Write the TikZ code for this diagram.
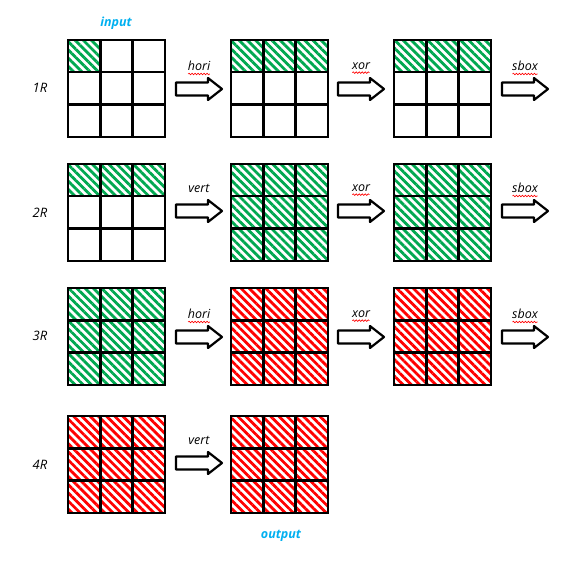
\documentclass[tikz,border=0pt]{standalone}
\usepackage{fontspec}
\setmainfont{Open Sans}
\usetikzlibrary{patterns.meta,decorations.pathmorphing,calc}
\definecolor{hgreen}{RGB}{0,168,80}
\definecolor{hred}{RGB}{255,0,0}
\definecolor{hblue}{RGB}{0,176,240}
\tikzset{
  cell/.style={draw=black,line width=2.4pt,minimum size=32.3pt,inner sep=0pt,outer sep=0pt},
  E/.style={},
  G/.style={pattern={Lines[angle=-45,distance=5.8pt,line width=2.8pt]},pattern color=hgreen},
  R/.style={pattern={Lines[angle=-45,distance=5.8pt,line width=2.8pt]},pattern color=hred},
  blockarrow/.style={draw=black,line width=2.2pt,line join=round,fill=white},
  oplabel/.style={font=\itshape\fontsize{12.5}{15}\selectfont,inner sep=1pt},
  rowlabel/.style={font=\itshape\fontsize{13}{16}\selectfont},
  iolabel/.style={font=\itshape\bfseries\fontsize{12.5}{15}\selectfont,text=hblue},
  squig/.style={draw=hred,line width=0.6pt,decorate,decoration={snake,amplitude=0.8pt,segment length=3pt}}
}
\newcommand{\mygrid}[4]{%
  \foreach \s [count=\k from 0] in {#4} {
    \pgfmathtruncatemacro\rr{div(\k,3)}
    \pgfmathtruncatemacro\cc{mod(\k,3)}
    \node[cell,\s] (#1-\rr-\cc) at ({#2+16.15+32.3*\cc},{#3+16.15+32.3*\rr}) {};
  }}
% name, x centre, y centre, label
\newcommand{\myarrow}[4]{%
  \coordinate (#1) at (#2,#3);
  \draw[blockarrow] ($(#1)+(-23,-6.5)$) -- ($(#1)+(9,-6.5)$) -- ($(#1)+(9,-11)$)
     -- ($(#1)+(23,0)$) -- ($(#1)+(9,11)$) -- ($(#1)+(9,6.5)$) -- ($(#1)+(-23,6.5)$) -- cycle;
  \node[oplabel] (#1-l) at ($(#1)+(0,-23)$) {#4};
}
\newcommand{\mysquig}[1]{%
  \draw[squig] ($(#1-l.south west)+(1.5,2)$) -- ($(#1-l.south east)+(-1.5,2)$);
}
\begin{document}
\begin{tikzpicture}[x=1pt,y=-1pt]
\useasboundingbox (0,0) rectangle (570,564);
% row 1
\mygrid{g11}{68}{40}{G,E,E,E,E,E,E,E,E}
\mygrid{g12}{231}{40}{G,G,G,E,E,E,E,E,E}
\mygrid{g13}{394}{40}{G,G,G,E,E,E,E,E,E}
% row 2
\mygrid{g21}{68}{164}{G,G,G,E,E,E,E,E,E}
\mygrid{g22}{231}{164}{G,G,G,G,G,G,G,G,G}
\mygrid{g23}{394}{164}{G,G,G,G,G,G,G,G,G}
% row 3
\mygrid{g31}{68}{288}{G,G,G,G,G,G,G,G,G}
\mygrid{g32}{231}{288}{R,R,R,R,R,R,R,R,R}
\mygrid{g33}{394}{288}{R,R,R,R,R,R,R,R,R}
% row 4
\mygrid{g41}{68}{416}{R,R,R,R,R,R,R,R,R}
\mygrid{g42}{231}{416}{R,R,R,R,R,R,R,R,R}
% arrows
\myarrow{a11}{199}{89}{hori}\mysquig{a11}
\myarrow{a12}{361}{89}{xor}\mysquig{a12}
\myarrow{a13}{525}{89}{sbox}\mysquig{a13}
\myarrow{a21}{199}{211}{vert}
\myarrow{a22}{361}{211}{xor}\mysquig{a22}
\myarrow{a23}{525}{211}{sbox}\mysquig{a23}
\myarrow{a31}{199}{337}{hori}\mysquig{a31}
\myarrow{a32}{361}{337}{xor}\mysquig{a32}
\myarrow{a33}{525}{337}{sbox}\mysquig{a33}
\myarrow{a41}{199}{463}{vert}
% row labels
\node[rowlabel] (r1) at (40,88) {1R};
\node[rowlabel] (r2) at (40,213) {2R};
\node[rowlabel] (r3) at (40,336) {3R};
\node[rowlabel] (r4) at (40,465) {4R};
% io labels
\node[iolabel] (in) at (116,23) {input};
\node[iolabel] (out) at (281,536) {output};
\end{tikzpicture}
\end{document}
